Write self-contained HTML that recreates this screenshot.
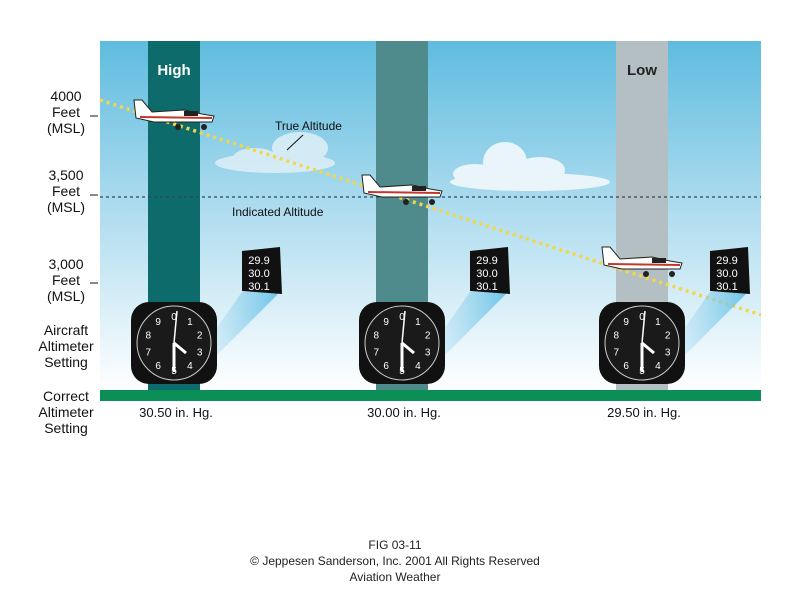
<!DOCTYPE html>
<html><head><meta charset="utf-8">
<style>
body{margin:0;background:#fff;width:800px;height:600px;overflow:hidden;font-family:"Liberation Sans",sans-serif}
svg{display:block}
</style></head>
<body>
<svg id="fig" width="800" height="600" viewBox="0 0 800 600" font-family="Liberation Sans, sans-serif">
<defs>
<linearGradient id="sky" x1="0" y1="0" x2="0" y2="1">
<stop offset="0" stop-color="#5fbcdf"/><stop offset="0.45" stop-color="#a9daee"/><stop offset="1" stop-color="#ffffff"/>
</linearGradient>
<linearGradient id="beam" x1="0" y1="0" x2="1" y2="0">
<stop offset="0" stop-color="#9fd6ee" stop-opacity="0.2"/><stop offset="1" stop-color="#5fbfe6" stop-opacity="0.9"/>
</linearGradient>
</defs>
<rect x="100" y="41" width="661" height="350" fill="url(#sky)"/>
<g fill="#e4f2f9" opacity="0.8">
<ellipse cx="275" cy="163" rx="60" ry="10"/><ellipse cx="300" cy="148" rx="28" ry="16"/><ellipse cx="255" cy="158" rx="22" ry="10"/>
</g>
<g fill="#eef7fb" opacity="0.95">
<ellipse cx="530" cy="182" rx="80" ry="9"/><ellipse cx="505" cy="162" rx="22" ry="20"/><ellipse cx="540" cy="170" rx="25" ry="13"/><ellipse cx="475" cy="174" rx="22" ry="10"/>
</g>
<g id="cols"></g>
<rect x="100" y="390" width="661" height="11" fill="#0b8f56"/>
<line x1="100" y1="197" x2="761" y2="197" stroke="#2a4a5a" stroke-width="1.3" stroke-dasharray="3,3"/>
<line x1="100" y1="100" x2="761" y2="315" stroke="#f2d64a" stroke-width="3.5" stroke-dasharray="3,4"/>
<g id="fg"></g>
<text x="275" y="130" font-size="12" fill="#111">True Altitude</text>
<line x1="303" y1="135" x2="287" y2="150" stroke="#111"/>
<text x="232" y="216" font-size="12" fill="#111">Indicated Altitude</text>
<g font-size="14" fill="#111" text-anchor="middle">
<text x="66" y="101">4000</text><text x="66" y="117">Feet</text><text x="66" y="133">(MSL)</text>
<line x1="90" y1="116" x2="98" y2="116" stroke="#111"/>
<text x="66" y="180">3,500</text><text x="66" y="196">Feet</text><text x="66" y="212">(MSL)</text>
<line x1="90" y1="195" x2="98" y2="195" stroke="#111"/>
<text x="66" y="269">3,000</text><text x="66" y="285">Feet</text><text x="66" y="301">(MSL)</text>
<line x1="90" y1="283" x2="98" y2="283" stroke="#111"/>
<text x="66" y="335">Aircraft</text><text x="66" y="351">Altimeter</text><text x="66" y="367">Setting</text>
<text x="66" y="401">Correct</text><text x="66" y="417">Altimeter</text><text x="66" y="433">Setting</text>
</g>
<g font-size="12" fill="#222" text-anchor="middle">
<text x="395" y="549">FIG 03-11</text>
<text x="395" y="565">© Jeppesen Sanderson, Inc. 2001 All Rights Reserved</text>
<text x="395" y="581">Aviation Weather</text>
</g>
</svg>
<script>
const stations = ["High", "Mid", "Low"];
const colX = [174, 402, 642];
const pressures = ["30.50 in. Hg.", "30.00 in. Hg.", "29.50 in. Hg."];
const colColors = ["#0e6b6b", "#4f8a8c", "#b3bfc2"];
const topLabels = ["High", "", "Low"];
const planeY = [115, 190, 262];
const NS = "http://www.w3.org/2000/svg";
function mk(tag, attrs, parent){const e=document.createElementNS(NS,tag);for(const k in attrs)e.setAttribute(k,attrs[k]);parent.appendChild(e);return e;}
const cols = document.getElementById("cols"), fg = document.getElementById("fg");
stations.forEach((s,i)=>{
  const x = colX[i];
  const c = mk("rect",{x:x-26,y:41,width:52,height:350,fill:colColors[i]},cols);
  
  
  if(topLabels[i]){
    const t = mk("text",{x:x,y:75,"font-size":15,"font-weight":"bold","text-anchor":"middle",fill:i==0?"#fff":"#222"},fg);
    t.textContent = topLabels[i];
    
    
  }
  const py = planeY[i];
  const p = mk("g",{transform:`translate(${x-40},${py-15})`},fg);
  
  
  mk("path",{d:"M0 0 L8 0 L18 12 L50 10 L68 14 L80 16 L78 22 L20 22 L2 18 Z",fill:"#fff",stroke:"#222","stroke-width":1},p);
  mk("line",{x1:6,y1:17,x2:78,y2:18,stroke:"#c0392b","stroke-width":2},p);
  mk("rect",{x:50,y:11,width:14,height:5,fill:"#222"},p);
  mk("circle",{cx:44,cy:27,r:3,fill:"#222"},p);
  mk("circle",{cx:70,cy:27,r:3,fill:"#222"},p);
  const g = mk("g",{},fg);
  
  
  mk("polygon",{points:`${x+32},${343} ${x+68},${292} ${x+106},${292} ${x+38},${360}`,fill:"url(#beam)"},g);
  mk("rect",{x:x-43,y:302,width:86,height:82,rx:18,fill:"#111"},g);
  mk("circle",{cx:x,cy:343,r:37,fill:"#1a1a1a",stroke:"#ccc","stroke-width":1},g);
  const nums=["0","1","2","3","4","5","6","7","8","9"];
  nums.forEach((n,k)=>{const a=k*36*Math.PI/180;const t=mk("text",{x:x+27*Math.sin(a),y:347-27*Math.cos(a),"font-size":10,fill:"#fff","text-anchor":"middle"},g);t.textContent=n;});
  mk("line",{x1:x,y1:343,x2:x+3,y2:311,stroke:"#fff","stroke-width":1.5},g);
  mk("line",{x1:x,y1:343,x2:x,y2:372,stroke:"#fff","stroke-width":3},g);
  mk("line",{x1:x,y1:343,x2:x+12,y2:353,stroke:"#fff","stroke-width":3},g);
  const sb = mk("g",{},fg);
  
  
  mk("polygon",{points:`${x+68},${251} ${x+106},${247} ${x+108},${294} ${x+68},${291}`,fill:"#111"},sb);
  ["29.9","30.0","30.1"].forEach((v,k)=>{const t=mk("text",{x:x+85,y:264+k*13,"font-size":11,fill:"#fff","text-anchor":"middle"},sb);t.textContent=v;});
  const pl = mk("text",{x:x+2,y:417,"font-size":13,fill:"#111","text-anchor":"middle"},fg);
  pl.textContent = pressures[i];
  
  
});
</script>
</body></html>
